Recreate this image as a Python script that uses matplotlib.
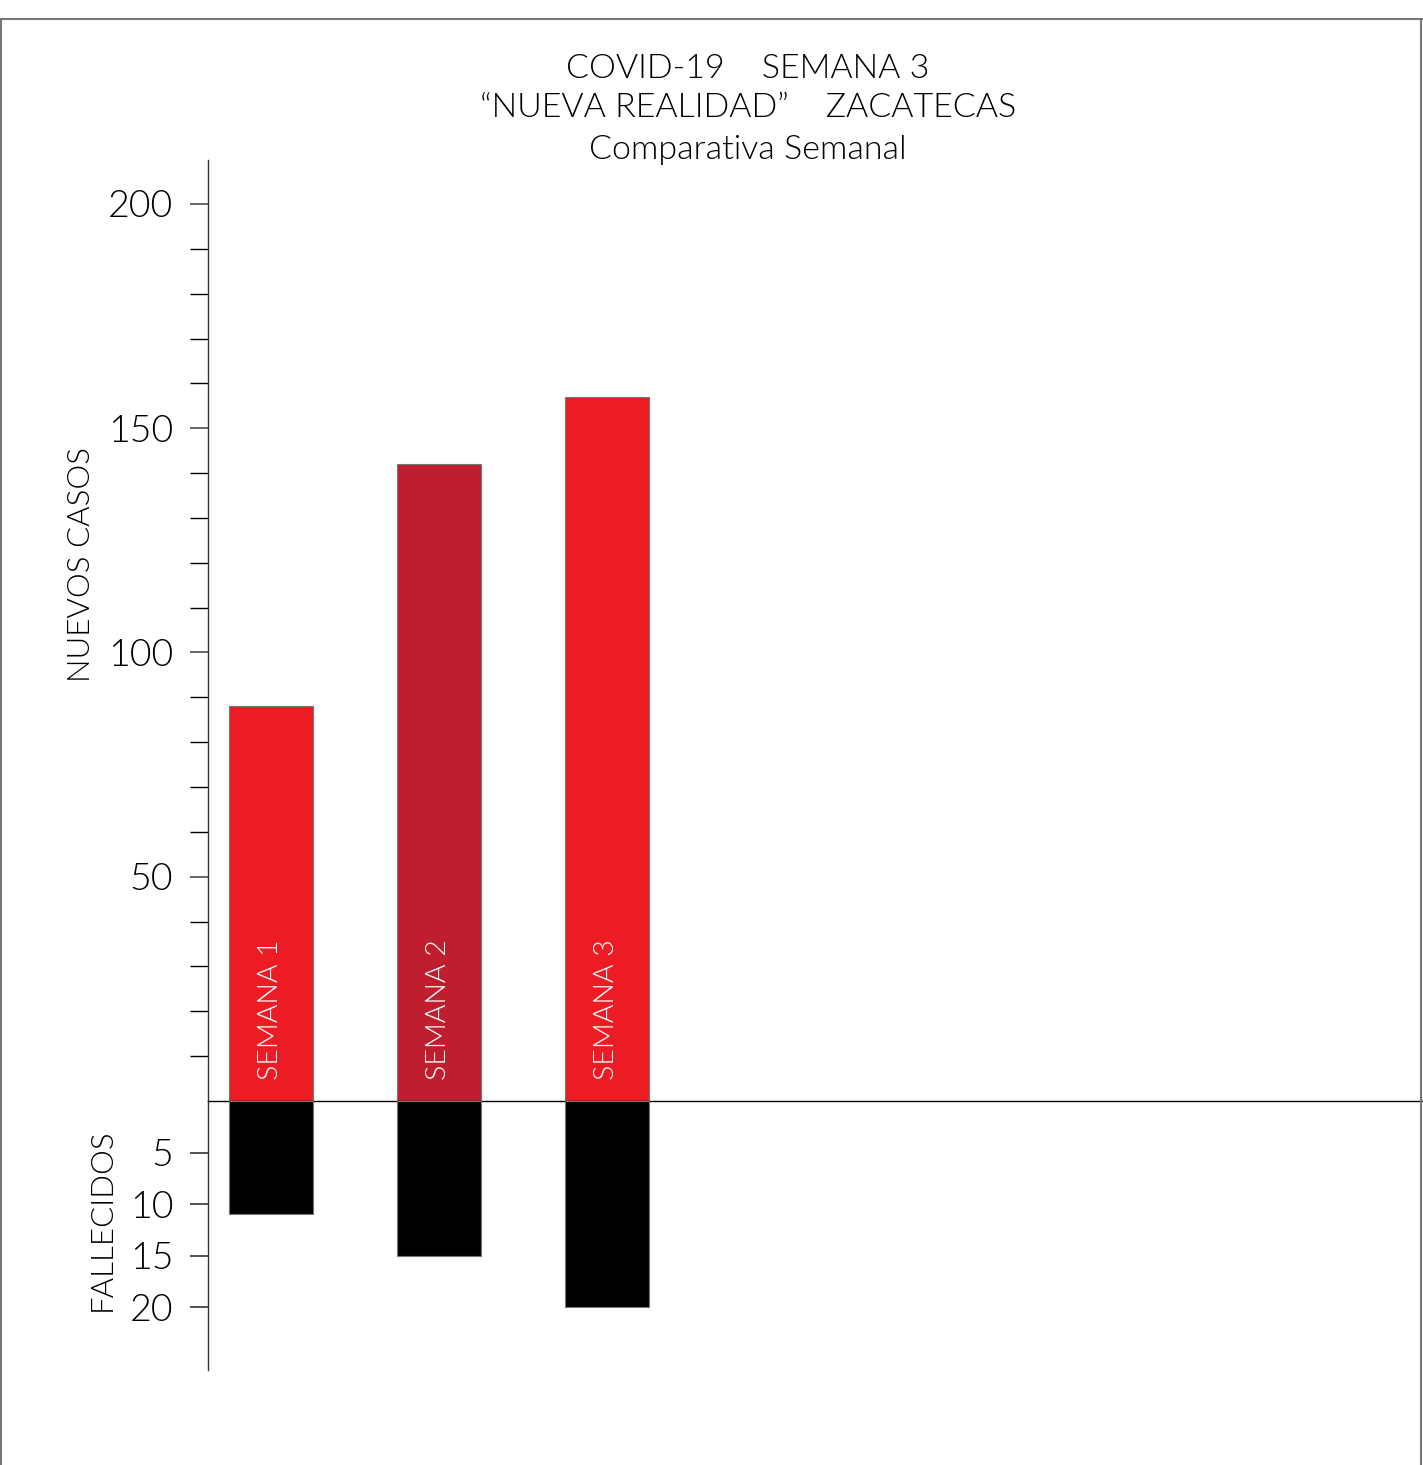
import matplotlib
matplotlib.use("Agg")
import matplotlib.pyplot as plt
from matplotlib.lines import Line2D

# ---- data ----
categories = ["SEMANA 1", "SEMANA 2", "SEMANA 3"]
nuevos_casos = [88, 142, 157]
fallecidos = [11, 15, 20]
bar_colors = ["#ED1C24", "#BE1E2D", "#ED1C24"]
case_major = [50, 100, 150, 200]
case_minor = [v for v in range(10, 200, 10) if v % 50 != 0]
death_ticks = [5, 10, 15, 20]
title_lines = ["COVID-19    SEMANA 3", "\u201cNUEVA REALIDAD\u201d    ZACATECAS", "Comparativa Semanal"]

W, H = 1423, 1465
plt.rcParams['font.family'] = ['Lato', 'DejaVu Sans']
plt.rcParams['font.weight'] = 300
fig = plt.figure(figsize=(W / 100, H / 100), dpi=100)

def fx(px):
    return px / W

def fy(py):
    return 1 - py / H

ax_left = 208
base_y = 1101
top_y = 160
bot_y = 1370
ax_w = W - ax_left

ax = fig.add_axes([fx(ax_left), fy(base_y), ax_w / W, (base_y - top_y) / H])
ax2 = fig.add_axes([fx(ax_left), fy(bot_y), ax_w / W, (bot_y - base_y) / H])

xs = list(range(len(categories)))
bw = 0.5
xmin = -0.375
xmax = xmin + ax_w / 168.0
ax.bar(xs, nuevos_casos, width=bw, color=bar_colors, edgecolor="#777777", linewidth=0.8, zorder=3)
ax2.bar(xs, fallecidos, width=bw, color="black", edgecolor="#777777", linewidth=0.8, zorder=3)

ax.set_xlim(xmin, xmax)
ax2.set_xlim(xmin, xmax)
ax.set_ylim(0, 209.8)
ax2.set_ylim(26.1, 0)

for a in (ax, ax2):
    a.set_facecolor("none")
    a.spines['top'].set_visible(False)
    a.spines['right'].set_visible(False)
    a.set_xticks([])
    a.spines['left'].set_color("#333333")
    a.spines['left'].set_linewidth(1.0)
ax2.spines['bottom'].set_visible(False)
ax.spines['bottom'].set_color("black")
ax.spines['bottom'].set_linewidth(1.0)
ax.spines['bottom'].set_zorder(5)

ax.set_yticks(case_major)
ax.set_yticklabels([str(v) for v in case_major])
ax.set_yticks(case_minor, minor=True)
ax.tick_params(axis='y', which='major', length=13, width=1.4, color="#666666",
               labelsize=27, pad=12, direction='out', labelcolor='black')
ax.tick_params(axis='y', which='minor', length=13, width=1.0, color="black", direction='out')
ax2.set_yticks(death_ticks)
ax2.set_yticklabels([str(v) for v in death_ticks])
ax2.tick_params(axis='y', which='major', length=13, width=1.2, color="#333333",
                labelsize=27, pad=12, direction='out', labelcolor='black')

for x, name in zip(xs, categories):
    ax.annotate(name, xy=(x, 0), xytext=(0, 15), textcoords='offset points',
                rotation=90, ha='center', va='bottom', color='white',
                fontsize=20.5, zorder=6)

fig.text(fx(82), fy(565), "NUEVOS CASOS", rotation=90, ha='center', va='center',
         fontsize=22.5, color='black')
fig.text(fx(102), fy(1220), "FALLECIDOS", rotation=90, ha='center', va='center',
         fontsize=22.5, color='black')

for ty, line in zip([69, 108, 150], title_lines):
    fig.text(fx(748), fy(ty), line, ha='center', va='center', fontsize=24.5, color='black')

# frame
fr = "#777777"
fig.add_artist(Line2D([0, 1], [fy(18.5), fy(18.5)], color=fr, lw=1.5, transform=fig.transFigure))
fig.add_artist(Line2D([fx(1), fx(1)], [0, fy(18.5)], color=fr, lw=1.5, transform=fig.transFigure))
fig.add_artist(Line2D([fx(1421), fx(1421)], [0, fy(18.5)], color=fr, lw=1.5, transform=fig.transFigure))

fig.savefig("out.png", dpi=100, facecolor="white")
